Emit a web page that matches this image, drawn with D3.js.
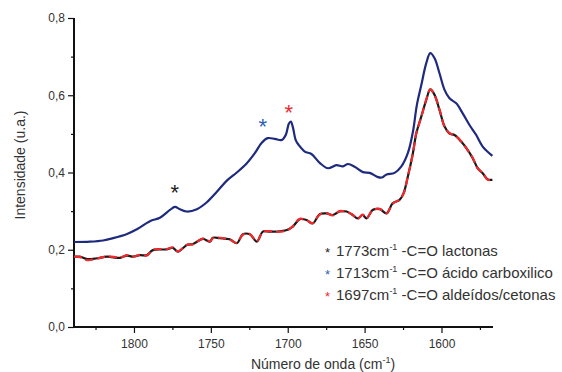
<!DOCTYPE html>
<html>
<head>
<meta charset="utf-8">
<script src="https://cdn.jsdelivr.net/npm/d3@7"></script>
<style>
  html, body { margin: 0; padding: 0; background: #fff; }
  svg { display: block; font-family: "Liberation Sans", Arial, sans-serif; }
</style>
</head>
<body>
<svg id="chart" width="562" height="372"></svg>
<script>
// Wavenumbers (cm-1) and intensities
const blueWn = [1839,1828.6,1820.1,1813.6,1804.5,1798.1,1789.6,1783.1,1776.6,1773.4,1770.1,1765.6,1759.1,1752.6,1746.1,1739.6,1733.1,1726.6,1721.4,1716.9,1713.0,1708.4,1703.9,1701.3,1699.3,1698.0,1696.7,1694.8,1692.8,1688.9,1684.6,1679.2,1673.8,1668.4,1664.1,1660.8,1656.5,1651.1,1646.7,1641.3,1638.9,1635.7,1630.5,1626.2,1621.9,1618.6,1616.0,1613.2,1609.9,1607.3,1604.5,1601.3,1598.0,1594.8,1590.4,1586.2,1581.8,1577.4,1573.2,1566.9];
const blueVal = [0.220,0.221,0.224,0.230,0.241,0.253,0.274,0.283,0.303,0.311,0.305,0.299,0.305,0.323,0.350,0.379,0.400,0.424,0.450,0.477,0.489,0.487,0.484,0.497,0.526,0.532,0.518,0.484,0.471,0.454,0.448,0.425,0.411,0.419,0.416,0.422,0.415,0.401,0.399,0.388,0.387,0.395,0.399,0.415,0.450,0.505,0.575,0.625,0.683,0.709,0.696,0.657,0.614,0.592,0.579,0.553,0.523,0.497,0.467,0.443];

const blackWn = [1839,1835.1,1830.5,1824.0,1817.5,1809.1,1804.5,1800.6,1796.1,1791.6,1787.7,1778.6,1774.7,1771.4,1765.6,1761.7,1755.2,1750.6,1748.7,1744.2,1737.7,1733.1,1729.2,1724.7,1720.1,1716.2,1711.7,1707.1,1700.6,1696.7,1692.2,1687.7,1683.8,1679.2,1674.7,1670.8,1666.2,1661.7,1657.8,1654.5,1651.3,1648.7,1644.8,1640.2,1635.7,1631.8,1627.3,1624.7,1621.9,1618.6,1616.4,1613.2,1609.9,1607.3,1604.5,1601.3,1598.0,1594.8,1591.5,1587.2,1582.9,1579.7,1576.4,1573.2,1569.9,1566.9];
const blackVal = [0.182,0.182,0.176,0.178,0.182,0.179,0.185,0.182,0.186,0.186,0.199,0.201,0.205,0.195,0.212,0.215,0.228,0.221,0.231,0.230,0.227,0.217,0.240,0.240,0.221,0.247,0.247,0.247,0.251,0.260,0.279,0.277,0.268,0.292,0.294,0.290,0.299,0.299,0.290,0.281,0.290,0.281,0.303,0.305,0.294,0.320,0.329,0.346,0.389,0.450,0.501,0.544,0.588,0.615,0.601,0.562,0.519,0.501,0.497,0.480,0.458,0.437,0.411,0.398,0.382,0.381];
const redWn = blackWn;
const redVal = [0.182,0.181,0.173,0.177,0.183,0.180,0.186,0.182,0.187,0.185,0.200,0.202,0.206,0.196,0.213,0.214,0.229,0.222,0.230,0.231,0.226,0.218,0.239,0.241,0.222,0.246,0.248,0.246,0.250,0.261,0.280,0.276,0.269,0.291,0.295,0.289,0.300,0.298,0.291,0.280,0.291,0.282,0.302,0.306,0.295,0.319,0.330,0.345,0.390,0.449,0.502,0.543,0.589,0.615,0.600,0.563,0.518,0.502,0.496,0.481,0.457,0.438,0.410,0.399,0.381,0.382];

const yTicks = [0, 0.2, 0.4, 0.6, 0.8];
const yMinor = [0.1, 0.3, 0.5, 0.7];
const xTicks = [1800, 1750, 1700, 1650, 1600];
const xMinor = [1825, 1775, 1725, 1675, 1625, 1575];

const markers = [
  {wn: 1773.4, v: 0.360, color: "#222222"},
  {wn: 1716.3, v: 0.531, color: "#2d5fb4"},
  {wn: 1699.3, v: 0.567, color: "#ee2a2e"}
];
const legendItems = [
  {color: "#222222", num: "1773cm", rest: " -C=O lactonas"},
  {color: "#2d5fb4", num: "1713cm", rest: " -C=O ácido carboxilico"},
  {color: "#ee2a2e", num: "1697cm", rest: " -C=O aldeídos/cetonas"}
];

const svg = d3.select("#chart");
const x = d3.scaleLinear().domain([1839, 1566.5]).range([74, 493]);
const y = d3.scaleLinear().domain([0, 0.8]).range([327, 18]);
const fmt = d => d3.format(".1f")(d).replace(".", ",");
const textColor = "#333333";

// axes
const yAxis = svg.append("g").attr("transform", "translate(74,0)")
  .call(d3.axisLeft(y).tickValues(yTicks).tickFormat(fmt).tickSize(6).tickPadding(3));
svg.append("g").attr("transform", "translate(74,0)")
  .call(d3.axisLeft(y).tickValues(yMinor).tickFormat("").tickSize(3))
  .select(".domain").remove();
const xAxis = svg.append("g").attr("transform", "translate(0,327)")
  .call(d3.axisBottom(x).tickValues(xTicks).tickFormat(d3.format("d")).tickSize(6).tickPadding(6));
svg.append("g").attr("transform", "translate(0,327)")
  .call(d3.axisBottom(x).tickValues(xMinor).tickFormat("").tickSize(3))
  .select(".domain").remove();
svg.selectAll(".domain").attr("stroke", "#111").attr("stroke-width", 2);
svg.selectAll(".tick line").attr("stroke", "#111").attr("stroke-width", 1.2);
svg.selectAll(".tick text").attr("font-size", 12).attr("fill", textColor)
  .attr("font-family", "Liberation Sans, Arial, sans-serif");
yAxis.select(".domain").attr("d", `M0,${y(0)}V${y(0.8)}`);
xAxis.select(".domain").attr("d", `M${x(1839)},0H${x(1566.5)}`);

// lines
const mk = (wn, val) => wn.map((w, i) => [w, val[i]]);
const line = d3.line().x(d => x(d[0])).y(d => y(d[1])).curve(d3.curveCatmullRom.alpha(0.5));

svg.append("path").datum(mk(blueWn, blueVal)).attr("d", line)
  .attr("fill", "none").attr("stroke", "#1e2a7e").attr("stroke-width", 2.2);
svg.append("path").datum(mk(blackWn, blackVal)).attr("d", line)
  .attr("fill", "none").attr("stroke", "#1a1a1a").attr("stroke-width", 2.2);
svg.append("path").datum(mk(redWn, redVal)).attr("d", line)
  .attr("fill", "none").attr("stroke", "#ee2a2e").attr("stroke-width", 2.2)
  .attr("stroke-dasharray", "8,4");

// asterisk markers
svg.selectAll(".mark").data(markers).enter().append("text")
  .attr("x", d => x(d.wn)).attr("y", d => y(d.v) + 12)
  .attr("text-anchor", "middle").attr("font-size", 22).attr("fill", d => d.color)
  .text("*");

// legend
const lg = svg.append("g");
legendItems.forEach((it, i) => {
  const yy = 255.5 + i * 22.2;
  lg.append("text").attr("x", 325).attr("y", yy + 1).attr("font-size", 13)
    .attr("fill", it.color).text("*");
  const t = lg.append("text").attr("x", 336).attr("y", yy).attr("font-size", 15).attr("fill", textColor);
  t.append("tspan").text(it.num);
  t.append("tspan").attr("dy", -6).attr("font-size", 9).text("-1");
  t.append("tspan").attr("dy", 6).text(it.rest);
});

// axis titles
const xt = svg.append("text").attr("x", 323).attr("y", 369).attr("text-anchor", "middle")
  .attr("font-size", 14).attr("fill", textColor);
xt.append("tspan").text("Número de onda (cm");
xt.append("tspan").attr("dy", -6).attr("font-size", 9).text("-1");
xt.append("tspan").attr("dy", 6).text(")");

svg.append("text").attr("transform", "translate(25,165) rotate(-90)")
  .attr("text-anchor", "middle").attr("font-size", 14).attr("fill", textColor)
  .text("Intensidade (u.a.)");
</script>
</body>
</html>
